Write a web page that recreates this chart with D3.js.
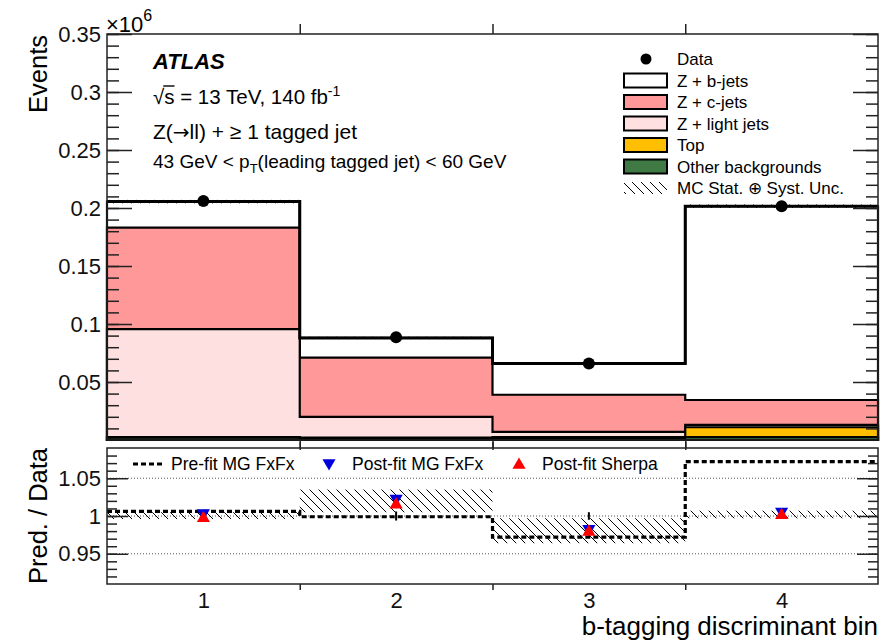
<!DOCTYPE html>
<html>
<head>
<meta charset="utf-8">
<script src="https://cdn.jsdelivr.net/npm/d3@7"></script>
<style>
  body { margin: 0; background: #fff; }
  svg { font-family: "Liberation Sans", Arial, sans-serif; }
</style>
</head>
<body>
<div id="chart"></div>
<script>
// bins and edges
const bins = [1, 2, 3, 4];
const binEdges = [0.5, 1.5, 2.5, 3.5, 4.5];

// upper panel, events in units of 10^6
const dataEvents = [0.206, 0.0885, 0.066, 0.2015];
const otherBkg = [0.002, 0.0015, 0.0015, 0.0025];
const topBkg   = [0.0005, 0.0005, 0.001, 0.0085];
const zLight   = [0.093, 0.018, 0.0045, 0.002];
const zC       = [0.0875, 0.051, 0.032, 0.0215];
const zB       = [0.0225, 0.017, 0.027, 0.167];
const mcUnc    = [0.0015, 0.001, 0.001, 0.0015];

// lower panel, pred / data
const preFit     = [1.006, 0.999, 0.972, 1.072];
const postMG     = [1.004, 1.023, 0.983, 1.006];
const postSherpa = [0.997, 1.015, 0.979, 1.001];
const uncLow     = [0.996, 1.005, 0.964, 0.997];
const uncHigh    = [1.005, 1.035, 0.997, 1.007];
const dataErr    = [0.004, 0.006, 0.005, 0.004];

// tick labels
const yTicksTop = [0.05, 0.1, 0.15, 0.2, 0.25, 0.3, 0.35];
const yTickLabelsTop = ["0.05", "0.1", "0.15", "0.2", "0.25", "0.3", "0.35"];
const yTicksRatio = [0.95, 1, 1.05];
const yTickLabelsRatio = ["0.95", "1", "1.05"];

const width = 889, height = 641;
const left = 107, right = 878;

const svg = d3.select("#chart").append("svg")
    .attr("width", width).attr("height", height);

const defs = svg.append("defs");
defs.append("pattern")
    .attr("id", "hatch")
    .attr("patternUnits", "userSpaceOnUse")
    .attr("width", 9).attr("height", 9)
    .append("path")
    .attr("d", "M-1,-1 L10,10 M-1,8 L1,10 M8,-1 L10,1")
    .attr("stroke", "#000").attr("stroke-width", 1);

const x = d3.scaleLinear().domain([0.5, 4.5]).range([left, right]);
const y = d3.scaleLinear().domain([0, 0.35]).range([440, 34]);
const yr = d3.scaleLinear().domain([0.91, 1.09]).range([584, 448]);

// step path over the bins, closed down to the baseline if base given
function stepPath(vals, ys, base) {
    let p = "";
    vals.forEach((v, i) => {
        const x0 = x(binEdges[i]), x1 = x(binEdges[i + 1]);
        p += (i == 0 ? (base != null ? `M${x0},${ys(base)}L` : "M") : "L") + `${x0},${ys(v)}L${x1},${ys(v)}`;
    });
    if (base != null) p += `L${x(binEdges[vals.length])},${ys(base)}Z`;
    return p;
}

// --- upper panel ---
const stackDefs = [
    {vals: otherBkg, color: "#3f7a45"},
    {vals: topBkg, color: "#ffbf00"},
    {vals: zLight, color: "#ffe0e0"},
    {vals: zC, color: "#ff9999"},
    {vals: zB, color: "#ffffff"}
];
let cum = [0, 0, 0, 0];
const layers = stackDefs.map(s => {
    cum = cum.map((c, i) => c + s.vals[i]);
    return {cum: cum.slice(), color: s.color};
});
const totals = cum;

const upper = svg.append("g");
layers.slice().reverse().forEach(l => {
    upper.append("path")
        .attr("d", stepPath(l.cum, y, 0))
        .attr("fill", l.color)
        .attr("stroke", "#000")
        .attr("stroke-width", 2.2);
});
// total outline thicker
upper.append("path")
    .attr("d", stepPath(totals, y, null))
    .attr("fill", "none").attr("stroke", "#000").attr("stroke-width", 3);

// MC uncertainty band
bins.forEach((b, i) => {
    upper.append("rect")
        .attr("x", x(binEdges[i])).attr("width", x(binEdges[i + 1]) - x(binEdges[i]))
        .attr("y", y(totals[i] + mcUnc[i]))
        .attr("height", y(totals[i] - mcUnc[i]) - y(totals[i] + mcUnc[i]))
        .attr("fill", "url(#hatch)");
});

// data points
upper.selectAll("circle.data")
    .data(bins)
    .join("circle")
    .attr("class", "data")
    .attr("cx", d => x(d)).attr("cy", (d, i) => y(dataEvents[i]))
    .attr("r", 6).attr("fill", "#000");

// upper frame & axes
upper.append("rect")
    .attr("x", left).attr("y", 34).attr("width", right - left).attr("height", 440 - 34)
    .attr("fill", "none").attr("stroke", "#222").attr("stroke-width", 1.5);

const minorTop = d3.range(1, 36).map(d => d / 100);
function styleAxis(g) {
    g.select(".domain").remove();
    g.selectAll(".tick line").attr("stroke", "#222").attr("stroke-width", 1.5);
    g.selectAll(".tick text").attr("font-size", 22).attr("fill", "#111")
        .attr("font-family", "Liberation Sans, Arial, sans-serif");
}
svg.append("g").attr("transform", `translate(${left},0)`)
    .call(d3.axisLeft(y).tickValues(minorTop).tickSize(-12).tickFormat(""))
    .call(styleAxis);
svg.append("g").attr("transform", `translate(${left},0)`)
    .call(d3.axisLeft(y).tickValues(yTicksTop).tickSize(-25).tickPadding(6)
        .tickFormat((d, i) => yTickLabelsTop[i]))
    .call(styleAxis);
svg.append("g").attr("transform", `translate(${right},0)`)
    .call(d3.axisRight(y).tickValues(minorTop).tickSize(-12).tickFormat(""))
    .call(styleAxis);
svg.append("g").attr("transform", `translate(${right},0)`)
    .call(d3.axisRight(y).tickValues(yTicksTop).tickSize(-25).tickFormat(""))
    .call(styleAxis);
// bin boundary ticks
svg.append("g").attr("transform", "translate(0,440)")
    .call(d3.axisTop(x).tickValues([1.5, 2.5, 3.5]).tickSize(-10).tickFormat(""))
    .call(styleAxis);
svg.append("g").attr("transform", "translate(0,34)")
    .call(d3.axisBottom(x).tickValues([1.5, 2.5, 3.5]).tickSize(-10).tickFormat(""))
    .call(styleAxis);

// x10^6
const mult = svg.append("text").attr("x", 106).attr("y", 32).attr("font-size", 22);
mult.append("tspan").text("×10");
mult.append("tspan").attr("dy", -11).attr("font-size", 16).text("6");

svg.append("text")
    .attr("transform", "translate(47,35) rotate(-90)")
    .attr("text-anchor", "end").attr("font-size", 25.5)
    .text("Events");

// labels
svg.append("text").attr("x", 153).attr("y", 69)
    .attr("font-size", 22).attr("font-weight", "bold").attr("font-style", "italic")
    .text("ATLAS");
const sq = svg.append("text").attr("x", 153).attr("y", 104).attr("font-size", 20.5);
sq.append("tspan").text("√s = 13 TeV, 140 fb");
sq.append("tspan").attr("dy", -8).attr("font-size", 14).text("-1");
{
    const node = sq.node();
    const x0 = 153 + node.getSubStringLength(0, 1) - 1;
    const x1 = 153 + node.getSubStringLength(0, 2);
    svg.append("line").attr("x1", x0).attr("x2", x1).attr("y1", 86).attr("y2", 86)
        .attr("stroke", "#000").attr("stroke-width", 1.4);
}
const zl = svg.append("text").attr("x", 153).attr("y", 139).attr("font-size", 21);
zl.append("tspan").text("Z(");
zl.append("tspan").attr("font-family", "DejaVu Sans").attr("font-size", 20).text("→");
zl.append("tspan").text("ll) + ≥ 1 tagged jet");
const pt = svg.append("text").attr("x", 153).attr("y", 168).attr("font-size", 19);
pt.append("tspan").text("43 GeV < p");
pt.append("tspan").attr("dy", 5).attr("font-size", 13).text("T");
pt.append("tspan").attr("dy", -5).text("(leading tagged jet) < 60 GeV");

// legend
const legItems = [
    {label: "Data", type: "dot"},
    {label: "Z + b-jets", type: "box", color: "#ffffff"},
    {label: "Z + c-jets", type: "box", color: "#ff9999"},
    {label: "Z + light jets", type: "box", color: "#ffe0e0"},
    {label: "Top", type: "box", color: "#ffbf00"},
    {label: "Other backgrounds", type: "box", color: "#3f7a45"},
    {label: "MC Stat. ⊕ Syst. Unc.", type: "hatch"}
];
const leg = svg.append("g");
legItems.forEach((it, i) => {
    const cy = 59 + i * 21.5;
    if (it.type == "dot") {
        leg.append("circle").attr("cx", 646).attr("cy", cy).attr("r", 5.5).attr("fill", "#000");
    } else if (it.type == "box") {
        leg.append("rect").attr("x", 624).attr("y", cy - 7).attr("width", 43).attr("height", 14)
            .attr("fill", it.color).attr("stroke", "#000").attr("stroke-width", 2);
    } else {
        leg.append("rect").attr("x", 624).attr("y", cy - 6).attr("width", 43).attr("height", 12)
            .attr("fill", "url(#hatch)");
    }
    leg.append("text").attr("x", 677).attr("y", cy + 6).attr("font-size", 17).text(it.label);
});

// --- lower panel ---
const lower = svg.append("g");
yTicksRatio.forEach(v => {
    lower.append("line").attr("x1", left).attr("x2", right)
        .attr("y1", yr(v)).attr("y2", yr(v))
        .attr("stroke", "#555").attr("stroke-width", 1).attr("stroke-dasharray", "1,2");
});
bins.forEach((b, i) => {
    lower.append("rect")
        .attr("x", x(binEdges[i])).attr("width", x(binEdges[i + 1]) - x(binEdges[i]))
        .attr("y", yr(uncHigh[i])).attr("height", yr(uncLow[i]) - yr(uncHigh[i]))
        .attr("fill", "url(#hatch)");
});
// pre-fit dashed step
lower.append("path")
    .attr("d", stepPath(preFit, yr, null))
    .attr("fill", "none").attr("stroke", "#000").attr("stroke-width", 3.2)
    .attr("stroke-dasharray", "5,3");
// data error bars
bins.forEach((b, i) => {
    lower.append("line").attr("x1", x(b)).attr("x2", x(b))
        .attr("y1", yr(1 - dataErr[i])).attr("y2", yr(1 + dataErr[i]))
        .attr("stroke", "#000").attr("stroke-width", 2);
});
const tri = d3.symbol().type(d3.symbolTriangle).size(75);
lower.selectAll("path.mg").data(bins).join("path").attr("class", "mg")
    .attr("d", tri)
    .attr("transform", (d, i) => `translate(${x(d)},${yr(postMG[i])}) rotate(180)`)
    .attr("fill", "#0000dd");
lower.selectAll("path.sh").data(bins).join("path").attr("class", "sh")
    .attr("d", tri)
    .attr("transform", (d, i) => `translate(${x(d)},${yr(postSherpa[i])})`)
    .attr("fill", "#ff0000");

lower.append("rect")
    .attr("x", left).attr("y", 448).attr("width", right - left).attr("height", 584 - 448)
    .attr("fill", "none").attr("stroke", "#222").attr("stroke-width", 1.5);

const minorRatio = d3.range(92, 109).map(d => d / 100);
svg.append("g").attr("transform", `translate(${left},0)`)
    .call(d3.axisLeft(yr).tickValues(minorRatio).tickSize(-10).tickFormat(""))
    .call(styleAxis);
svg.append("g").attr("transform", `translate(${left},0)`)
    .call(d3.axisLeft(yr).tickValues(yTicksRatio).tickSize(-21).tickPadding(6)
        .tickFormat((d, i) => yTickLabelsRatio[i]))
    .call(styleAxis);
svg.append("g").attr("transform", `translate(${right},0)`)
    .call(d3.axisRight(yr).tickValues(minorRatio).tickSize(-10).tickFormat(""))
    .call(styleAxis);
svg.append("g").attr("transform", `translate(${right},0)`)
    .call(d3.axisRight(yr).tickValues(yTicksRatio).tickSize(-21).tickFormat(""))
    .call(styleAxis);
svg.append("g").attr("transform", "translate(0,584)")
    .call(d3.axisTop(x).tickValues([1.5, 2.5, 3.5]).tickSize(-6).tickFormat(""))
    .call(styleAxis);
svg.append("g").attr("transform", "translate(0,448)")
    .call(d3.axisBottom(x).tickValues([1.5, 2.5, 3.5]).tickSize(-6).tickFormat(""))
    .call(styleAxis);
// bin labels
svg.append("g").attr("transform", "translate(0,584)")
    .call(d3.axisBottom(x).tickValues(bins).tickSize(0).tickPadding(8).tickFormat(d3.format("d")))
    .call(styleAxis);

svg.append("text")
    .attr("transform", "translate(47,516) rotate(-90)")
    .attr("text-anchor", "middle").attr("font-size", 25.5)
    .text("Pred. / Data");
svg.append("text").attr("x", 878).attr("y", 635).attr("text-anchor", "end")
    .attr("font-size", 26).text("b-tagging discriminant bin");

// lower legend
lower.append("line").attr("x1", 133).attr("x2", 164).attr("y1", 464).attr("y2", 464)
    .attr("stroke", "#000").attr("stroke-width", 3.2).attr("stroke-dasharray", "5,3");
lower.append("text").attr("x", 171).attr("y", 470).attr("font-size", 17.5).text("Pre-fit MG FxFx");
lower.append("path").attr("d", tri).attr("transform", "translate(329,463) rotate(180)").attr("fill", "#0000dd");
lower.append("text").attr("x", 352).attr("y", 470).attr("font-size", 17.5).text("Post-fit MG FxFx");
lower.append("path").attr("d", tri).attr("transform", "translate(519,465)").attr("fill", "#ff0000");
lower.append("text").attr("x", 542).attr("y", 470).attr("font-size", 17.5).text("Post-fit Sherpa");
</script>
</body>
</html>
